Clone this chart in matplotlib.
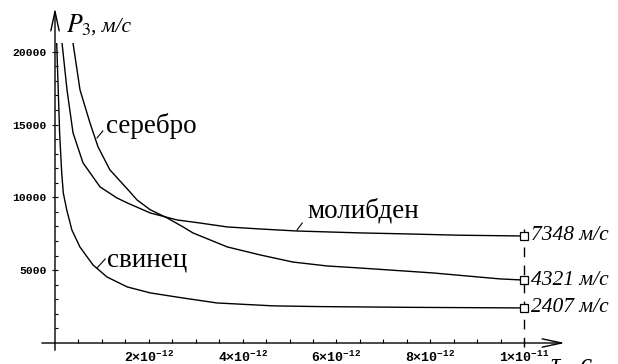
import numpy as np
import matplotlib
matplotlib.use('Agg')
from matplotlib import pyplot as plt

# time in units of 1e-12 s, P3 in m/s
t_lead = [0.036, 0.10, 0.143, 0.177, 0.25, 0.36, 0.53, 0.81, 1.11, 1.54, 2.03, 2.73, 3.45, 4.65, 5.65, 7.5, 10.0]
p_lead = [20600, 14300, 11680, 10300, 9140, 7760, 6600, 5360, 4530, 3850, 3440, 3090, 2750, 2550, 2500, 2450, 2407]

t_moly = [0.15, 0.256, 0.384, 0.597, 0.96, 1.32, 1.54, 2.03, 2.6, 3.09, 3.67, 4.37, 5.16, 6.5, 7.5, 8.64, 10.0]
p_moly = [20600, 17380, 14430, 12370, 10720, 9960, 9620, 8930, 8450, 8240, 7970, 7830, 7690, 7560, 7490, 7400, 7348]

t_silver = [0.384, 0.533, 0.746, 0.917, 1.17, 1.56, 1.75, 2.03, 2.39, 2.73, 2.94, 3.67, 4.37, 5.07, 5.8, 6.5, 8.06, 9.49, 10.0]
p_silver = [20600, 17380, 15110, 13470, 11890, 10510, 9820, 9150, 8590, 7970, 7560, 6600, 6050, 5560, 5290, 5150, 4810, 4400, 4321]

end_values = [7348, 4321, 2407]
unit = 'м/с'

xticks = [2e-12, 4e-12, 6e-12, 8e-12, 1e-11]
xtick_labels = [r'$2{\times}10^{-12}$', r'$4{\times}10^{-12}$', r'$6{\times}10^{-12}$',
                r'$8{\times}10^{-12}$', r'$1{\times}10^{-11}$']
yticks = [5000, 10000, 15000, 20000]

plt.rcParams['mathtext.fontset'] = 'custom'
plt.rcParams['mathtext.rm'] = 'Liberation Mono:bold'
plt.rcParams['mathtext.it'] = 'Liberation Mono:bold'
plt.rcParams['mathtext.bf'] = 'Liberation Mono:bold'

W, H = 618, 364
fig = plt.figure(figsize=(W / 100, H / 100), dpi=100)
ax = fig.add_axes([55 / W, 21 / H, 516 / W, 300 / H])

ps = 1e-12
lw = 1.0
for t, p in [(t_lead, p_lead), (t_moly, p_moly), (t_silver, p_silver)]:
    ax.plot(np.array(t) * ps, p, color='black', lw=lw)

ax.set_xlim(0, 1.1e-11)
ax.set_ylim(0, 20600)
for s in ax.spines.values():
    s.set_visible(False)

# axes with arrows
arrow = dict(arrowstyle='->,head_length=1.4,head_width=0.3', lw=1, color='black',
             shrinkA=0, shrinkB=0)
ax.annotate('', xy=(0, 23000), xytext=(0, -500), arrowprops=arrow, annotation_clip=False)
ax.annotate('', xy=(10.87 * ps, 0), xytext=(-0.28 * ps, 0), arrowprops=arrow, annotation_clip=False)

ax.set_xticks(xticks, labels=xtick_labels)
ax.set_xticks(np.arange(0.5, 10.01, 0.5) * ps, minor=True)
ax.set_yticks(yticks, labels=[str(v) for v in yticks])
ax.set_yticks(np.arange(1000, 20001, 1000), minor=True)
ax.tick_params(axis='x', which='both', direction='in', length=3, width=0.8, pad=5, labelsize=9.5)
ax.tick_params(axis='y', which='major', direction='inout', length=4.5, width=0.8, pad=3.5)
ax.tick_params(axis='y', which='minor', direction='in', length=2, width=0.8)
for lab in ax.get_yticklabels():
    lab.set_fontfamily('Liberation Mono')
    lab.set_fontweight('bold')
    lab.set_fontsize(8.2)

# dashed line at the end time with boxes and values
ax.plot([1e-11, 1e-11], [-250, 8100], color='black', lw=1, ls=(0, (7, 6)), clip_on=False)
for v in end_values:
    ax.plot(1e-11, v, marker='s', ms=5.5, mfc='white', mec='black', mew=0.9, zorder=5, clip_on=False)
    ax.annotate(f'{v} {unit}', xy=(1e-11, v), xytext=(5, 0), textcoords='offset points',
                va='center', ha='left', fontsize=15.5, family='Liberation Serif', style='italic',
                annotation_clip=False)

# curve names
serif = dict(fontsize=19.5, family='Liberation Serif', va='baseline', ha='left')
ax.text(1.09 * ps, 14430, 'серебро', **serif)
ax.plot([0.896 * ps, 1.02 * ps], [14080, 14560], color='black', lw=0.8)
ax.text(5.37 * ps, 8590, 'молибден', **serif)
ax.plot([5.16 * ps, 5.27 * ps], [7760, 8240], color='black', lw=0.8)
ax.text(1.11 * ps, 5220, 'свинец', **serif)
ax.plot([0.896 * ps, 1.07 * ps], [5150, 5770], color='black', lw=0.8)

# axis names
it = dict(family='Liberation Serif', style='italic', va='baseline', ha='left')
fig.text(66 / W, 1 - 32 / H, r'$P_3$', fontsize=18.5, math_fontfamily='stix', **it)
fig.text(91 / W, 1 - 32 / H, ', ' + unit, fontsize=15.5, **it)
fig.text(551 / W, 1 - 370 / H, 'τ , с', fontsize=19, **it)

fig.savefig('out.png', dpi=100)
